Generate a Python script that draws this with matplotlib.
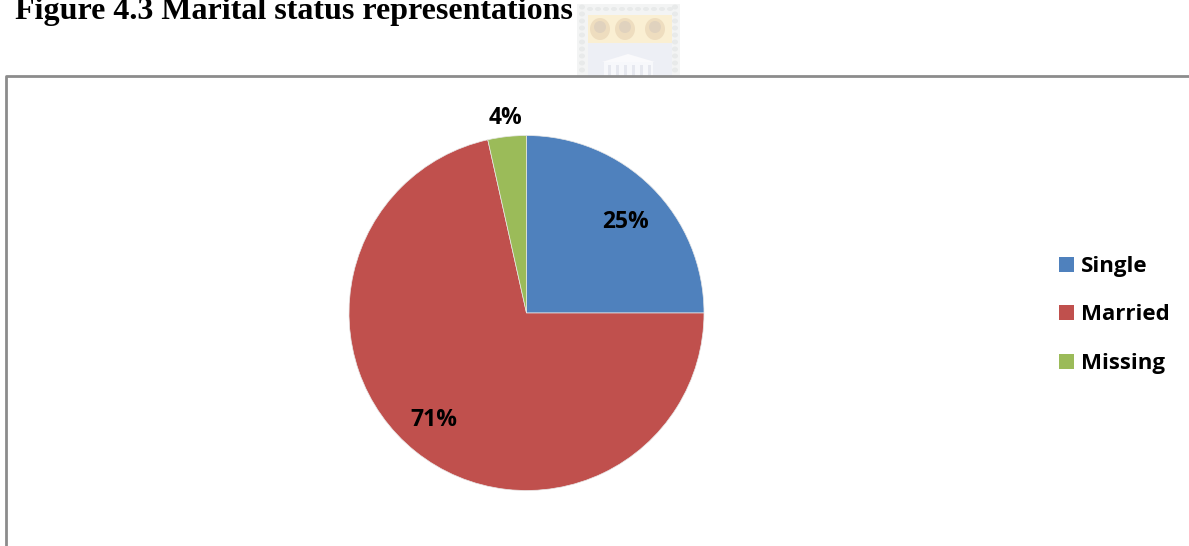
import matplotlib
matplotlib.use("Agg")
import matplotlib.pyplot as plt
from matplotlib.patches import Rectangle, Ellipse, Polygon
from matplotlib.lines import Line2D

categories = ["Single", "Married", "Missing"]
values = [25, 71.5, 3.5]
value_labels = ["25%", "71%", "4%"]
colors = ["#4F81BD", "#C0504D", "#9BBB59"]
title = "Figure 4.3 Marital status representations"

W, H = 1189, 546
fig = plt.figure(figsize=(W / 100, H / 100), dpi=100, facecolor="white")

# pixel-space background layer
bg = fig.add_axes([0, 0, 1, 1], zorder=0)
bg.set_xlim(0, W); bg.set_ylim(H, 0); bg.axis("off")

# faint watermark crest
bg.add_patch(Rectangle((577, 4), 103, 72, fc="#F3F4F4", ec="none"))
for y in range(7, 76, 7):
    for x in (582, 675):
        bg.add_patch(Ellipse((x, y), 6, 5, fc="#E8EAEA", ec="none"))
for x in range(590, 672, 8):
    bg.add_patch(Ellipse((x, 9), 6, 4, fc="#E8EAEA", ec="none"))
bg.add_patch(Rectangle((588, 15), 84, 28, fc="#FAEFD3", ec="none"))
bg.add_patch(Rectangle((588, 43), 84, 33, fc="#EDEFF5", ec="none"))
for x in (600, 625, 655):
    bg.add_patch(Ellipse((x, 29), 20, 22, fc="#EEDDBF", ec="none"))
    bg.add_patch(Ellipse((x, 27), 12, 12, fc="#E0D2BE", ec="none"))
bg.add_patch(Polygon([(602, 62), (628, 54), (655, 62)], fc="#FAFAFC", ec="none"))
bg.add_patch(Rectangle((604, 62), 49, 14, fc="#F7F8FB", ec="none"))
for x in range(608, 652, 8):
    bg.add_patch(Rectangle((x, 65), 3, 11, fc="#E6E8EF", ec="none"))

# chart frame
bg.add_line(Line2D([6, 6, W], [H, 76, 76], color="#8C8C8C", lw=2))

bg.text(15, 19, title, family="Liberation Serif", weight="bold", fontsize=23,
        color="black", va="baseline", ha="left")

# pie
cx, cy, r = 526.5, 313, 177.5
ax = fig.add_axes([(cx - r) / W, 1 - (cy + r) / H, 2 * r / W, 2 * r / H], zorder=1)
ax.pie(values, colors=colors, startangle=90, counterclock=False, radius=1,
       wedgeprops=dict(linewidth=0.5, edgecolor="#E8E8E8"))
ax.set_xlim(-1, 1); ax.set_ylim(-1, 1)

# labels and legend layer
overlay = fig.add_axes([0, 0, 1, 1], zorder=2)
overlay.set_xlim(0, W); overlay.set_ylim(H, 0); overlay.axis("off")

label_pos = [(626, 228), (434, 426), (505.5, 124)]
for text, (x, y) in zip(value_labels, label_pos):
    overlay.text(x, y, text, family="Open Sans", weight="bold", fontsize=16.5,
                 ha="center", va="baseline", color="black")

legend_y = [264, 312, 361]
for name, col, y in zip(categories, colors, legend_y):
    overlay.add_patch(Rectangle((1059, y - 7.5), 15, 15, fc=col, ec="none"))
    overlay.text(1081, y + 8, name, family="Open Sans", weight="bold", fontsize=16,
                 ha="left", va="baseline", color="black")

fig.savefig("out.png", dpi=100, facecolor="white")
